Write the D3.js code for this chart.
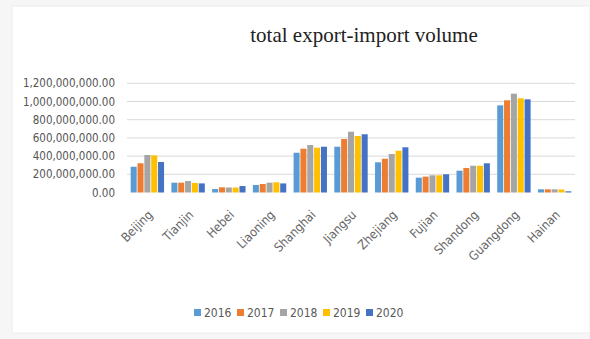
<!DOCTYPE html>
<html>
<head>
<meta charset="utf-8">
<script src="https://cdn.jsdelivr.net/npm/d3@7"></script>
<style>
  body { margin: 0; background: #f6f6f6; }
  svg { display: block; }
</style>
</head>
<body>
<svg id="chart" width="590" height="339"></svg>
<script>
const provinces = ["Beijing","Tianjin","Hebei","Liaoning","Shanghai","Jiangsu","Zhejiang","Fujian","Shandong","Guangdong","Hainan"];
const years = ["2016","2017","2018","2019","2020"];
const v2016 = [283e6,108e6,38e6,82e6,437e6,503e6,332e6,163e6,240e6,958e6,35e6];
const v2017 = [321e6,108e6,57e6,93e6,481e6,588e6,371e6,174e6,269e6,1013e6,35e6];
const v2018 = [412e6,126e6,55e6,108e6,522e6,668e6,423e6,189e6,294e6,1086e6,35e6];
const v2019 = [408e6,105e6,55e6,112e6,492e6,621e6,459e6,189e6,294e6,1035e6,33e6];
const v2020 = [335e6,100e6,71e6,100e6,503e6,640e6,497e6,200e6,321e6,1024e6,13e6];
const yTicks = [0,200e6,400e6,600e6,800e6,1000e6,1200e6];
const colors = ["#5B9BD5","#ED7D31","#A5A5A5","#FFC000","#4472C4"];

const series = [v2016, v2017, v2018, v2019, v2020];
const rows = provinces.map((p, i) => ({name: p, values: series.map(s => s[i])}));

const svg = d3.select("#chart");
// chart area frame
svg.append("rect").attr("x", 12).attr("y", 6).attr("width", 578).attr("height", 327)
  .attr("fill", "#fff").attr("stroke", "#ececec");

const plotLeft = 127, plotRight = 575, plotTop = 83.3, plotBottom = 192.5;

const x0 = d3.scaleBand().domain(provinces).range([plotLeft, plotRight]).paddingInner(0.14).paddingOuter(0.07);
const x1 = d3.scaleBand().domain(years).range([0, x0.bandwidth()]).padding(0.12);
const y = d3.scaleLinear().domain([0, 1200e6]).range([plotBottom, plotTop]);

// gridlines
svg.append("g")
  .selectAll("line")
  .data(yTicks.slice(1))
  .enter()
  .append("line")
  .attr("x1", plotLeft).attr("x2", plotRight)
  .attr("y1", d => y(d)).attr("y2", d => y(d))
  .attr("stroke", "#d9d9d9").attr("stroke-width", 1);

// y axis labels
const yAxis = svg.append("g")
  .attr("transform", `translate(${plotLeft - 12},0)`)
  .call(d3.axisLeft(y).tickValues(yTicks).tickSize(0).tickPadding(0)
    .tickFormat(d => d3.format(",.2f")(d)));
yAxis.select(".domain").remove();
yAxis.selectAll("text")
  .style("font-family", "'DejaVu Sans Condensed', sans-serif")
  .style("font-size", "11.5px")
  .attr("fill", "#555");

// bars
const groups = svg.append("g")
  .selectAll("g")
  .data(rows)
  .enter()
  .append("g")
  .attr("transform", d => `translate(${x0(d.name)},0)`);

groups.selectAll("rect")
  .data(d => d.values.map((v, i) => ({year: years[i], value: v, i: i})))
  .enter()
  .append("rect")
  .attr("x", d => x1(d.year))
  .attr("width", x1.bandwidth())
  .attr("y", d => y(d.value))
  .attr("height", d => plotBottom - y(d.value))
  .attr("fill", d => colors[d.i]);

// x axis labels
svg.append("g")
  .selectAll("text")
  .data(provinces)
  .enter()
  .append("text")
  .attr("transform", d => `translate(${x0(d) + x0.bandwidth() / 2 + 3},${plotBottom + 20}) rotate(-45)`)
  .attr("text-anchor", "end")
  .attr("dy", "0.35em")
  .style("font-family", "'DejaVu Sans Condensed', sans-serif")
  .style("font-size", "12.5px")
  .attr("fill", "#666")
  .text(d => d);

// title
svg.append("text")
  .attr("x", 364).attr("y", 42)
  .attr("text-anchor", "middle")
  .style("font-family", "'Liberation Serif', 'DejaVu Serif', serif")
  .style("font-size", "21px")
  .attr("fill", "#222")
  .text("total export-import volume");

// legend
const legendX = [194, 237, 280, 323, 366];
const legend = svg.append("g")
  .selectAll("g")
  .data(years)
  .enter()
  .append("g")
  .attr("transform", (d, i) => `translate(${legendX[i]},313)`);
legend.append("rect").attr("x", 0).attr("y", -4).attr("width", 7).attr("height", 7)
  .attr("fill", (d, i) => colors[i]);
legend.append("text").attr("x", 10).attr("y", 0).attr("dy", "0.35em")
  .style("font-family", "'DejaVu Sans Condensed', sans-serif")
  .style("font-size", "12px")
  .attr("fill", "#595959")
  .text(d => d);
</script>
</body>
</html>
